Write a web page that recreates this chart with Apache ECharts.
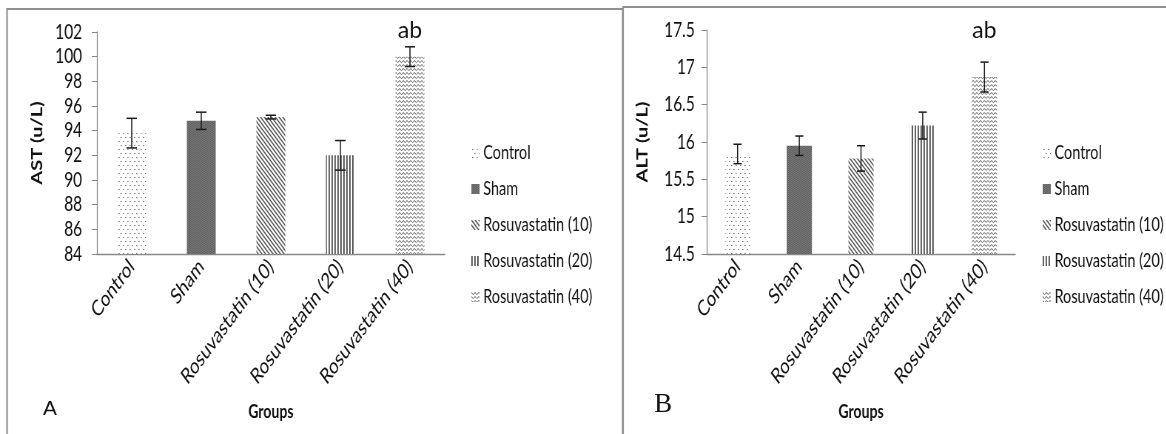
<!DOCTYPE html>
<html>
<head>
<meta charset="utf-8">
<script src="https://cdn.jsdelivr.net/npm/echarts@6/dist/echarts.min.js"></script>
<style>
  html, body { margin: 0; padding: 0; background: #fff; }
  #wrap { width: 1166px; height: 434px; overflow: hidden; }
  /* the source figure is squeezed horizontally, so the chart is too */
  #chart { width: 1576px; height: 434px; transform: scaleX(0.74); transform-origin: 0 0; }
</style>
</head>
<body>
<div id="wrap"><div id="chart"></div></div>
<script>
// groups and measured values (mean and error)
const categories = ['Control', 'Sham', 'Rosuvastatin (10)', 'Rosuvastatin (20)', 'Rosuvastatin (40)'];
const astMean = [93.8, 94.8, 95.1, 92.0, 100.0];
const astErr = [1.2, 0.7, 0.15, 1.2, 0.8];
const altMean = [15.84, 15.95, 15.78, 16.22, 16.87];
const altErr = [0.13, 0.13, 0.17, 0.18, 0.2];
const sigLabels = ['', '', '', '', 'ab'];

const K = 0.74;
const font = 'Lato, "Open Sans", sans-serif';

// small canvas tiles used as bar fills
function tile(w, h, draw) {
    let c = document.createElement('canvas');
    c.width = w;
    c.height = h;
    let ctx = c.getContext('2d');
    ctx.fillStyle = '#fff';
    ctx.fillRect(0, 0, w, h);
    draw(ctx);
    return { image: c, repeat: 'repeat' };
}

const patterns = [
    tile(6, 8, function (ctx) {
        ctx.fillStyle = '#707070';
        ctx.fillRect(1, 1, 1.6, 1);
        ctx.fillRect(4, 5, 1.6, 1);
    }),
    tile(2, 2, function (ctx) {
        ctx.fillStyle = '#5e5e5e';
        ctx.fillRect(0, 0, 2, 2);
        ctx.fillStyle = '#7a7a7a';
        ctx.fillRect(0, 0, 1, 1);
        ctx.fillRect(1, 1, 1, 1);
    }),
    tile(5, 5, function (ctx) {
        ctx.strokeStyle = '#4e4e4e';
        ctx.lineWidth = 1.4;
        ctx.beginPath();
        ctx.moveTo(-1, -1);
        ctx.lineTo(6, 6);
        ctx.moveTo(-1, 4);
        ctx.lineTo(1, 6);
        ctx.moveTo(4, -1);
        ctx.lineTo(6, 1);
        ctx.stroke();
    }),
    tile(4, 2, function (ctx) {
        ctx.fillStyle = '#3c3c3c';
        ctx.fillRect(0, 0, 1.7, 2);
    }),
    tile(5, 4, function (ctx) {
        ctx.strokeStyle = '#5c5c5c';
        ctx.lineWidth = 1;
        ctx.beginPath();
        ctx.moveTo(0, 0.5);
        ctx.lineTo(2.5, 2.6);
        ctx.lineTo(5, 0.5);
        ctx.stroke();
    })
];

function barSeries(name, idx, means, grid) {
    return {
        name: name,
        type: 'bar',
        xAxisIndex: grid,
        yAxisIndex: grid,
        barWidth: grid === 0 ? 39 : 34,
        barGap: '-100%',
        itemStyle: { color: patterns[idx] },
        data: means.map(function (v, i) { return i === idx ? v : '-'; })
    };
}

function errorSeries(means, errs, grid, cap, lift) {
    return {
        type: 'custom',
        xAxisIndex: grid,
        yAxisIndex: grid,
        z: 5,
        silent: true,
        renderItem: function (params, api) {
            let i = api.value(0);
            let lo = api.coord([i, api.value(1)]);
            let hi = api.coord([i, api.value(2)]);
            let st = { stroke: '#1a1a1a', lineWidth: 1.5 };
            let kids = [
                { type: 'line', shape: { x1: hi[0], y1: hi[1], x2: lo[0], y2: lo[1] }, style: st },
                { type: 'line', shape: { x1: hi[0] - cap, y1: hi[1], x2: hi[0] + cap, y2: hi[1] }, style: st },
                { type: 'line', shape: { x1: lo[0] - cap, y1: lo[1], x2: lo[0] + cap, y2: lo[1] }, style: st }
            ];
            if (sigLabels[i]) {
                kids.push({
                    type: 'text',
                    x: hi[0],
                    y: hi[1] - lift,
                    scaleX: 1 / K,
                    style: {
                        text: sigLabels[i],
                        fontFamily: font,
                        fontSize: 23,
                        fill: '#111',
                        align: 'center',
                        verticalAlign: 'bottom'
                    }
                });
            }
            return { type: 'group', children: kids };
        },
        data: means.map(function (v, i) { return [i, v - errs[i], v + errs[i]]; })
    };
}

function xAxisFor(grid) {
    return {
        type: 'category',
        gridIndex: grid,
        data: categories,
        name: 'Groups',
        nameLocation: 'middle',
        nameGap: 148,
        nameTextStyle: { fontFamily: font, fontWeight: 'bold', fontSize: 19, color: '#111' },
        axisLine: { lineStyle: { color: '#888', width: 1.3 } },
        axisTick: { length: 5, lineStyle: { color: '#888', width: 1.3 } },
        axisLabel: {
            interval: 0,
            rotate: 45,
            margin: 9,
            fontFamily: font,
            fontSize: 22,
            color: '#111'
        }
    };
}

function yAxisFor(grid, name, min, max, step, gap, margin) {
    return {
        type: 'value',
        gridIndex: grid,
        min: min,
        max: max,
        interval: step,
        name: name,
        nameLocation: 'middle',
        nameGap: gap,
        nameTextStyle: { fontFamily: font, fontWeight: 'bold', fontSize: 20, color: '#111' },
        splitLine: { show: false },
        axisLine: { show: true, lineStyle: { color: '#888', width: 1.3 } },
        axisTick: { show: true, length: 7, lineStyle: { color: '#888' } },
        axisLabel: { fontFamily: font, fontSize: 21, color: '#111', margin: margin }
    };
}

function legendAt(left) {
    return {
        orient: 'vertical',
        left: left,
        top: 143,
        padding: 0,
        icon: 'rect',
        itemWidth: 11,
        itemHeight: 10,
        itemGap: 16,
        data: categories,
        textStyle: { fontFamily: font, fontSize: 19.5, color: '#111' }
    };
}

let series = [];
categories.forEach(function (c, i) {
    series.push(barSeries(c, i, astMean, 0));
});
series.push(errorSeries(astMean, astErr, 0, 7, 5));
categories.forEach(function (c, i) {
    series.push(barSeries(c, i, altMean, 1));
});
series.push(errorSeries(altMean, altErr, 1, 5.5, 20));

let option = {
    backgroundColor: '#fff',
    animation: false,
    grid: [
        { left: 131, width: 470, top: 32, height: 222 },
        { left: 955, width: 417, top: 30, height: 224 }
    ],
    xAxis: [xAxisFor(0), xAxisFor(1)],
    yAxis: [
        yAxisFor(0, 'AST (u/L)', 84, 102, 2, 70, 20),
        yAxisFor(1, 'ALT (u/L)', 14.5, 17.5, 0.5, 76, 16)
    ],
    legend: [legendAt(637), legendAt(1409)],
    graphic: [
        { type: 'rect', shape: { x: 9.5, y: 9, width: 832, height: 440 }, style: { fill: 'none', stroke: '#8f8f8f', lineWidth: 2.2 }, silent: true },
        { type: 'rect', shape: { x: 842, y: 7, width: 760, height: 440 }, style: { fill: 'none', stroke: '#8f8f8f', lineWidth: 2.2 }, silent: true },
        { type: 'text', x: 58, y: 399, scaleX: 1 / K, style: { text: 'A', fontFamily: '"Liberation Sans", sans-serif', fontSize: 21, fill: '#111', verticalAlign: 'top' } },
        { type: 'text', x: 884, y: 391, scaleX: 1 / K, style: { text: 'B', fontFamily: '"Liberation Serif", serif', fontSize: 27, fill: '#111', verticalAlign: 'top' } }
    ],
    series: series
};

let myChart = echarts.init(document.getElementById('chart'));
myChart.setOption(option);
</script>
</body>
</html>
